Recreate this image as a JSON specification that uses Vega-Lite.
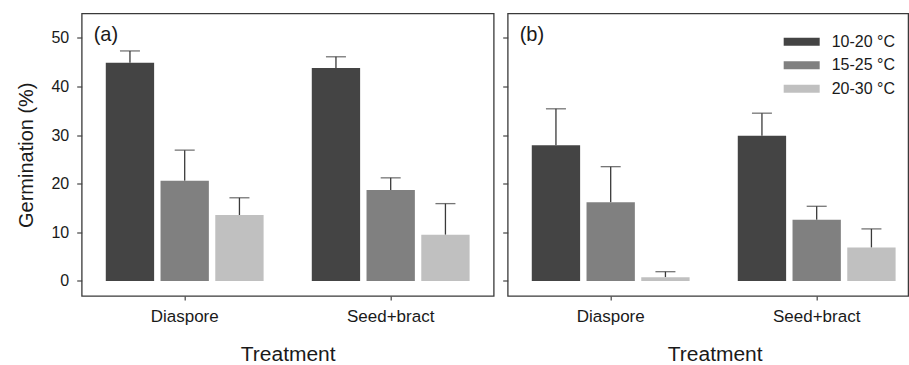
{
  "$schema": "https://vega.github.io/schema/vega-lite/v6.json",
  "autosize": {"type": "pad"},
  "padding": {"left": 15.7, "top": 12.5, "right": 0, "bottom": 0},
  "spacing": 6,
  "config": {
    "font": "Liberation Sans",
    "view": {"stroke": "#3a3a3a", "strokeWidth": 1.3},
    "axis": {
      "domain": false,
      "grid": false,
      "tickColor": "#444444",
      "tickWidth": 1.2,
      "labelColor": "#1a1a1a",
      "titleColor": "#1a1a1a",
      "titleFontWeight": "normal"
    },
    "axisX": {
      "labelAngle": 0,
      "labelAlign": "center",
      "labelBaseline": "top",
      "labelFontSize": 17,
      "labelPadding": 9,
      "tickSize": 4,
      "titleFontSize": 21,
      "titlePadding": 19
    },
    "axisY": {
      "values": [0, 10, 20, 30, 40, 50],
      "labelFontSize": 16,
      "labelPadding": 8,
      "tickSize": 5,
      "titleFontSize": 20,
      "titlePadding": 14
    }
  },
  "datasets": {
    "germination": [
      {"panel": "a", "treatment": "Diaspore", "temp": "10-20 °C", "mean": 44.85, "upper": 47.3},
      {"panel": "a", "treatment": "Diaspore", "temp": "15-25 °C", "mean": 20.6, "upper": 26.9},
      {"panel": "a", "treatment": "Diaspore", "temp": "20-30 °C", "mean": 13.56, "upper": 17.1},
      {"panel": "a", "treatment": "Seed+bract", "temp": "10-20 °C", "mean": 43.8, "upper": 46.1},
      {"panel": "a", "treatment": "Seed+bract", "temp": "15-25 °C", "mean": 18.7, "upper": 21.2},
      {"panel": "a", "treatment": "Seed+bract", "temp": "20-30 °C", "mean": 9.5, "upper": 15.9},
      {"panel": "b", "treatment": "Diaspore", "temp": "10-20 °C", "mean": 27.9, "upper": 35.4},
      {"panel": "b", "treatment": "Diaspore", "temp": "15-25 °C", "mean": 16.2, "upper": 23.5},
      {"panel": "b", "treatment": "Diaspore", "temp": "20-30 °C", "mean": 0.76, "upper": 1.9},
      {"panel": "b", "treatment": "Seed+bract", "temp": "10-20 °C", "mean": 29.85, "upper": 34.5},
      {"panel": "b", "treatment": "Seed+bract", "temp": "15-25 °C", "mean": 12.6, "upper": 15.35},
      {"panel": "b", "treatment": "Seed+bract", "temp": "20-30 °C", "mean": 6.85, "upper": 10.7}
    ],
    "panelLabels": [
      {"panel": "a", "label": "(a)"},
      {"panel": "b", "label": "(b)"}
    ]
  },
  "resolve": {"legend": {"color": "independent"}, "scale": {"x": "independent", "xOffset": "independent"}},
  "hconcat": [
    {
      "width": 412,
      "height": 282.5,
      "layer": [
        {
          "data": {"name": "germination"},
          "transform": [{"filter": "datum.panel === 'a'"}],
          "mark": {"type": "rule", "color": "#3a3a3a", "strokeWidth": 1.3},
          "encoding": {
            "x": {"field": "treatment", "type": "nominal", "scale": {"paddingInner": 0, "paddingOuter": 0}, "axis": {"title": "Treatment"}},
            "xOffset": {"field": "temp", "type": "nominal", "scale": {"paddingInner": 0.117, "paddingOuter": 0.44}},
            "y": {"field": "mean", "type": "quantitative", "scale": {"domain": [-3.1, 55], "nice": false, "zero": false}, "axis": {"title": "Germination (%)"}},
            "y2": {"field": "upper"}
          }
        },
        {
          "data": {"name": "germination"},
          "transform": [{"filter": "datum.panel === 'a'"}],
          "mark": {"type": "tick", "color": "#3a3a3a", "thickness": 1.3, "size": 20},
          "encoding": {
            "x": {"field": "treatment", "type": "nominal", "axis": {"title": "Treatment"}},
            "xOffset": {"field": "temp", "type": "nominal"},
            "y": {"field": "upper", "type": "quantitative", "axis": {"title": "Germination (%)"}}
          }
        },
        {
          "data": {"name": "germination"},
          "transform": [{"filter": "datum.panel === 'a'"}],
          "mark": {"type": "bar"},
          "encoding": {
            "x": {"field": "treatment", "type": "nominal", "axis": {"title": "Treatment"}},
            "xOffset": {"field": "temp", "type": "nominal"},
            "y": {"field": "mean", "type": "quantitative", "axis": {"title": "Germination (%)"}},
            "y2": {"datum": 0},
            "color": {
              "field": "temp",
              "type": "nominal",
              "scale": {
                "domain": ["10-20 °C", "15-25 °C", "20-30 °C"],
                "range": ["#444444", "#808080", "#c0c0c0"]
              },
              "legend": null
            }
          }
        },
        {
          "data": {"name": "panelLabels"},
          "transform": [{"filter": "datum.panel === 'a'"}],
          "mark": {"type": "text", "align": "left", "baseline": "middle", "fontSize": 20, "dx": 12, "color": "#1a1a1a"},
          "encoding": {
            "x": {"datum": "Diaspore", "bandPosition": 0},
            "y": {"datum": 50.5},
            "text": {"field": "label"}
          }
        }
      ]
    },
    {
      "width": 400.5,
      "height": 282.5,
      "layer": [
        {
          "data": {"name": "germination"},
          "transform": [{"filter": "datum.panel === 'b'"}],
          "mark": {"type": "rule", "color": "#3a3a3a", "strokeWidth": 1.3},
          "encoding": {
            "x": {"field": "treatment", "type": "nominal", "scale": {"paddingInner": 0, "paddingOuter": 0, "range": [0, 412]}, "axis": {"title": "Treatment", "titleX": 207}},
            "xOffset": {"field": "temp", "type": "nominal", "scale": {"paddingInner": 0.117, "paddingOuter": 0.44}},
            "y": {"field": "mean", "type": "quantitative", "scale": {"domain": [-3.1, 55], "nice": false, "zero": false}, "axis": {"title": null, "labels": false}},
            "y2": {"field": "upper"}
          }
        },
        {
          "data": {"name": "germination"},
          "transform": [{"filter": "datum.panel === 'b'"}],
          "mark": {"type": "tick", "color": "#3a3a3a", "thickness": 1.3, "size": 20},
          "encoding": {
            "x": {"field": "treatment", "type": "nominal", "axis": {"title": "Treatment", "titleX": 207}},
            "xOffset": {"field": "temp", "type": "nominal"},
            "y": {"field": "upper", "type": "quantitative", "axis": {"title": null, "labels": false}}
          }
        },
        {
          "data": {"name": "germination"},
          "transform": [{"filter": "datum.panel === 'b'"}],
          "mark": {"type": "bar"},
          "encoding": {
            "x": {"field": "treatment", "type": "nominal", "axis": {"title": "Treatment", "titleX": 207}},
            "xOffset": {"field": "temp", "type": "nominal"},
            "y": {"field": "mean", "type": "quantitative", "axis": {"title": null, "labels": false}},
            "y2": {"datum": 0},
            "color": {
              "field": "temp",
              "type": "nominal",
              "scale": {
                "domain": ["10-20 °C", "15-25 °C", "20-30 °C"],
                "range": ["#444444", "#808080", "#c0c0c0"]
              },
              "legend": {
                "title": null,
                "orient": "none",
                "legendX": 274,
                "legendY": 20.2,
                "padding": 0,
                "symbolType": "M-1,-0.667H5V0.667H-1Z",
                "symbolSize": 144,
                "symbolStrokeWidth": 0,
                "labelFontSize": 16,
                "labelOffset": 34,
                "labelColor": "#1a1a1a",
                "rowPadding": 7.5
              }
            }
          }
        },
        {
          "data": {"name": "panelLabels"},
          "transform": [{"filter": "datum.panel === 'b'"}],
          "mark": {"type": "text", "align": "left", "baseline": "middle", "fontSize": 20, "dx": 12, "color": "#1a1a1a"},
          "encoding": {
            "x": {"datum": "Diaspore", "bandPosition": 0},
            "y": {"datum": 50.5},
            "text": {"field": "label"}
          }
        }
      ]
    }
  ]
}
